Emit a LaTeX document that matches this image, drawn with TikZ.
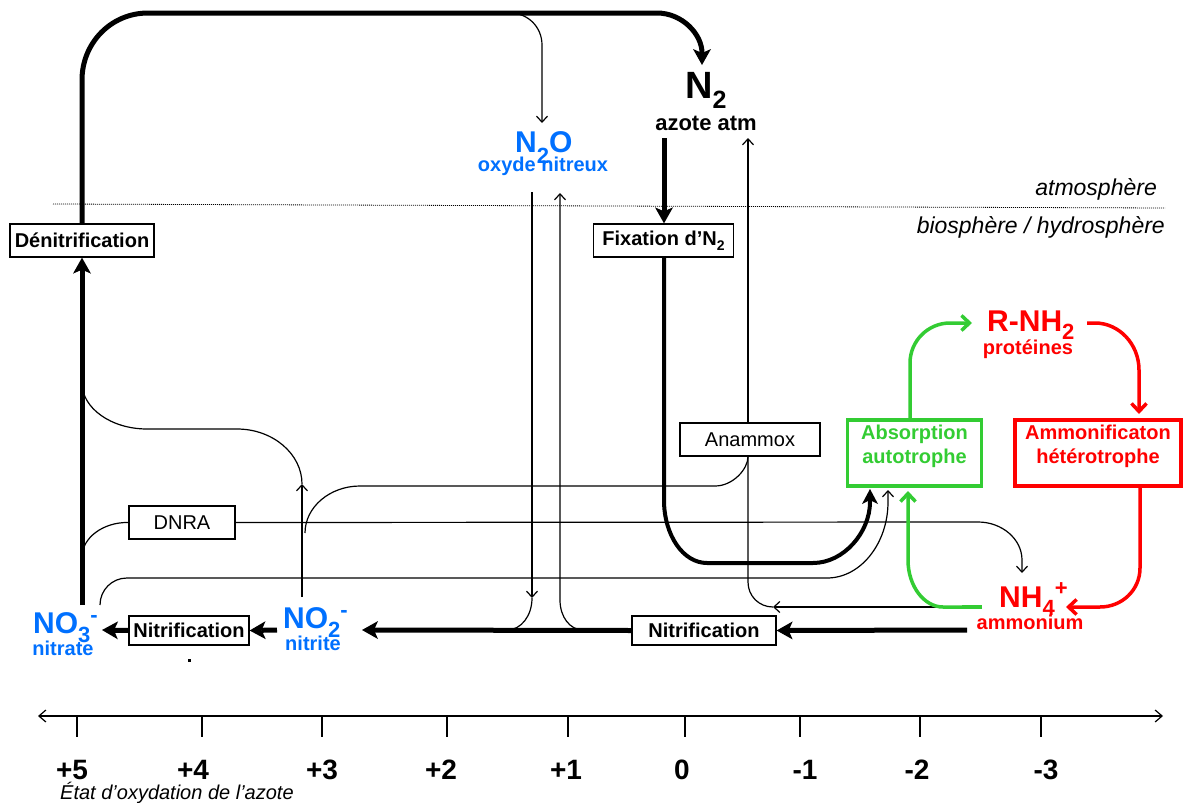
\documentclass[tikz,border=0pt]{standalone}
\usepackage{fontspec}
\setmainfont{Liberation Sans}
\usetikzlibrary{arrows.meta}
\definecolor{nblue}{RGB}{0,112,255}
\definecolor{ngreen}{RGB}{51,204,51}
\definecolor{nred}{RGB}{255,0,0}
\newcommand\fs[1]{\fontsize{#1}{#1}\selectfont}
\newcommand\lo[3]{\raisebox{-#1pt}{\fs{#2}#3}}
\newcommand\hi[3]{\raisebox{#1pt}{\fs{#2}#3}}
\begin{document}
\begin{tikzpicture}[x=1pt,y=-1pt,
  txt/.style={inner sep=0pt, font=\bfseries\fs{20}},
  pbox/.style={draw, line width=1.3pt, inner sep=0pt, font=\bfseries\fs{20}},
  cbox/.style={draw, line width=3.5pt, inner sep=0pt},
  ctxt/.style={inner sep=0pt, align=center, font=\bfseries\fontsize{20}{24}\selectfont},
  tline/.style={line width=1.2pt},
  tarr/.style={line width=1.2pt, -{Straight Barb[length=6pt,width=11pt]}},
  Tarr/.style={line width=5pt, -{Stealth[length=16pt,width=18pt,inset=4pt,line width=0pt]}},
  garr/.style={ngreen, line width=3.5pt, -{Straight Barb[length=8pt,width=15pt]}},
  rarr/.style={nred, line width=3.5pt, -{Straight Barb[length=8pt,width=15pt]}},
  tick/.style={line width=1.2pt},
  axl/.style={inner sep=0pt, anchor=base, font=\bfseries\fs{28}}
]
\useasboundingbox (0,0) rectangle (1184,803);

% separation line and realms
\draw[line width=0.8pt, dash pattern=on 1pt off 1pt] (53,204) -- (1165,208);
\node[inner sep=0pt, anchor=base east, font=\itshape\fs{23}] (atmo) at (1157,195) {atmosphère};
\node[inner sep=0pt, anchor=base east, font=\itshape\fs{23}] (bios) at (1165,233) {biosphère / hydrosphère};

% boxes
\node[pbox, minimum width=144pt, minimum height=33pt] (den) at (82,240.5) {Dénitrification};
\node[pbox, minimum width=140pt, minimum height=33pt] (fix) at (663.5,240.5) {Fixation d’N\lo{5}{14}{2}};
\node[pbox, minimum width=120pt, minimum height=29pt] (nitL) at (189,630.5) {Nitrification};
\node[pbox, minimum width=144pt, minimum height=29pt] (nitR) at (704,630.5) {Nitrification};
\node[pbox, font=\fs{20}, minimum width=106pt, minimum height=33pt] (dnra) at (182,522.5) {DNRA};
\node[pbox, font=\fs{20}, minimum width=140pt, minimum height=33pt] (anam) at (750,439.5) {Anammox};
\node[cbox, draw=ngreen, minimum width=134pt, minimum height=66pt] (abs) at (914.5,453) {};
\node[ctxt, text=ngreen] (abstxt) at (914.5,446) {Absorption\\autotrophe};
\node[cbox, draw=nred, minimum width=166pt, minimum height=66pt] (amm) at (1098,453) {};
\node[ctxt, text=nred] (ammtxt) at (1098,446) {Ammonificaton\\hétérotrophe};

% species
\node[txt, anchor=base west, font=\bfseries\fs{38}] (n2) at (685,98) {N\lo{10}{25}{2}};
\node[txt, anchor=base, font=\bfseries\fs{22}] (atm) at (706,130) {azote atm};
\node[txt, anchor=base west, text=nblue, font=\bfseries\fs{30}] (n2o) at (515,152) {N\lo{11}{22}{2}O};
\node[txt, anchor=base, text=nblue] (n2olab) at (543,171) {oxyde nitreux};
\node[txt, anchor=base west, text=nred, font=\bfseries\fs{30}] (rnh) at (987,331) {R-NH\lo{8}{22}{2}};
\node[txt, anchor=base, text=nred] (prot) at (1028,354) {protéines};
\node[txt, anchor=base west, text=nred, font=\bfseries\fs{30}] (nh4) at (999,607) {NH\lo{8}{22}{4}\hi{12}{22}{+}};
\node[txt, anchor=base, text=nred] (nh4lab) at (1030,629) {ammonium};
\node[txt, anchor=base west, text=nblue, font=\bfseries\fs{30}] (no2) at (283,628) {NO\lo{9}{22}{2}\hi{11}{22}{-}};
\node[txt, anchor=base, text=nblue] (no2lab) at (313,650) {nitrite};
\node[txt, anchor=base west, text=nblue, font=\bfseries\fs{30}] (no3) at (33,633) {NO\lo{9}{22}{3}\hi{11}{22}{-}};
\node[txt, anchor=base, text=nblue] (no3lab) at (63,655) {nitrate};
\fill (187.5,658.5) rectangle (190.5,661.5);

% thick main connectors
\coordinate (n2in) at (702,65);
\draw[Tarr] (den.north) -- (82,80) .. controls (82,43) and (111,13) .. (148,13) -- (657,13) .. controls (682,13) and (702,34) .. (n2in);
\draw[Tarr] (664,138) -- (fix.north -| 664,0);
\coordinate (absin1) at (870,489);
\draw[line width=4pt, -{Stealth[length=15pt,width=16pt,inset=4pt,line width=0pt]}] (fix.south -| 664,0) -- (664,500) .. controls (664,535) and (683,563) .. (707,563) -- (813,563) .. controls (844,563) and (870,532) .. (870,502) -- (absin1);
\draw[Tarr] (967,630) -- (nitR.east);
\coordinate (no2in) at (362,630);
\draw[Tarr] (nitR.west) -- (no2in);
\draw[Tarr] (277,630) -- (nitL.east);
\coordinate (no3in) at (102,630);
\draw[Tarr] (nitL.west) -- (no3in);
\draw[Tarr] (82,605) -- (den.south);

% thin connectors
\coordinate (n2oin) at (542,123);
\draw[tarr] (510,13) .. controls (528,13) and (542,27) .. (542,45) -- (n2oin);
\draw[tarr] (532,192) -- (532,598);
\draw[tline] (532,598) .. controls (532,616) and (521,630) .. (507,630);
\draw[tarr] (583,630) .. controls (570,630) and (560,617) .. (560,600) -- (560,193);
% anammox
\draw[tarr] (962,607) -- (773,607);
\draw[tline] (773,607) .. controls (759,607) and (748,596) .. (748,582) -- (anam.south -| 748,0);
\draw[tarr] (anam.north -| 748,0) -- (748,138);
\draw[tline] (305,533) .. controls (305,507) and (330,486) .. (360,486) -- (715,486) .. controls (733,486) and (748,469) .. (anam.south -| 748,0);
% nitrite to denitrification
\draw[tarr] (302,597) -- (302,484);
\draw[tline] (302,484) .. controls (302,454) and (273,429) .. (237,429) -- (147,429) .. controls (111,429) and (82,408) .. (82,383);
% DNRA
\draw[tline] (82,557) .. controls (82,538) and (103,522) .. (dnra.west);
\draw[tarr] (dnra.east) -- (978,522) .. controls (1002,522) and (1022,539) .. (1022,560) -- (1022,573);
% nitrate to absorption
\draw[tarr] (100,605) .. controls (100,590) and (112,578) .. (127,578) -- (827,578) .. controls (861,578) and (888,543) .. (888,502) -- (888,490);

% coloured cycle
\draw[ngreen, line width=3.5pt] (982,607) -- (962,607);
\draw[garr] (962,607) -- (943,607) .. controls (924,607) and (908,586) .. (908,560) -- (908,491);
\draw[garr] (abs.north -| 910,0) -- (910,363) .. controls (910,341) and (928,323) .. (950,323) -- (972,323);
\draw[rarr] (1087,323) -- (1095,323) .. controls (1119,323) and (1139,344) .. (1139,370) -- (1139,414);
\draw[rarr] (amm.south -| 1140,0) -- (1140,568) .. controls (1140,590) and (1122,607) .. (1100,607) -- (1066,607);

% axis
\draw[line width=1.2pt, {Straight Barb[length=7pt,width=12pt]}-{Straight Barb[length=7pt,width=12pt]}] (38,716) -- (1163,716);
\foreach \x in {77,202,322,447,568,685,800,920,1041} \draw[tick] (\x,716) -- (\x,737);
\node[axl] (a5) at (72,779) {+5};
\node[axl] (a4) at (193,779) {+4};
\node[axl] (a3) at (322,779) {+3};
\node[axl] (a2) at (441,779) {+2};
\node[axl] (a1) at (566,779) {+1};
\node[axl] (a0) at (682,779) {0};
\node[axl] (am1) at (805,779) {-1};
\node[axl] (am2) at (917,779) {-2};
\node[axl] (am3) at (1046,779) {-3};
\node[inner sep=0pt, anchor=base west, font=\itshape\fs{20}] (etat) at (60,799) {État d’oxydation de l’azote};
\end{tikzpicture}
\end{document}
